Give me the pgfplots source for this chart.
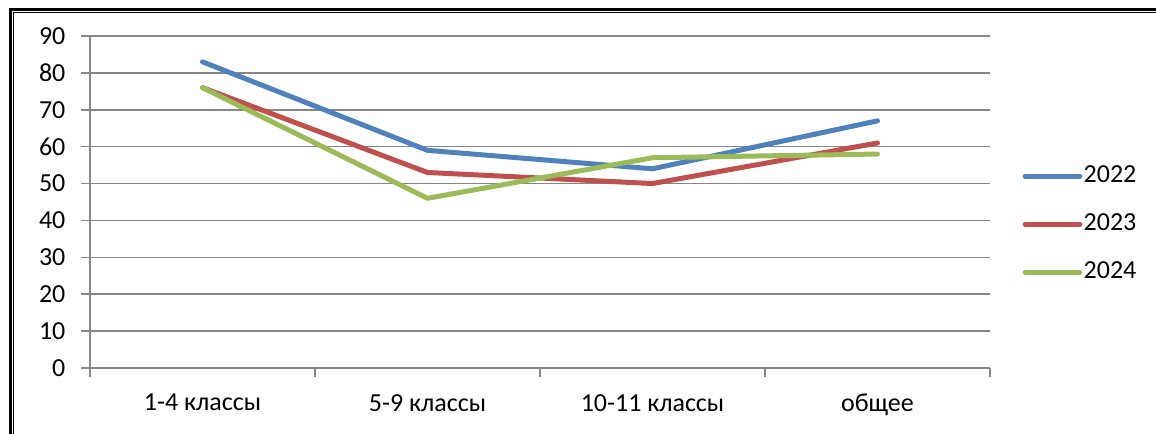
\documentclass[border=0pt]{standalone}
\usepackage{pgfplots}
\pgfplotsset{compat=1.18}
\usepackage{fontspec}
\setmainfont{Carlito}
\definecolor{c22}{HTML}{4F81BD}
\definecolor{c23}{HTML}{C0504D}
\definecolor{c24}{HTML}{9BBB59}
\definecolor{gridc}{HTML}{868686}
\begin{document}
\fontsize{19.5}{23}\selectfont
\begin{tikzpicture}
\useasboundingbox (0,0) rectangle (867pt,325.5pt);
\draw[black, line width=2.25pt] (7.5pt,0pt) -- (7.5pt,318.4pt) -- (867pt,318.4pt);
\draw[black, line width=0.75pt] (10.1pt,0pt) -- (10.1pt,316.1pt) -- (867pt,316.1pt);
\begin{axis}[
 at={(67.5pt,49.5pt)}, anchor=south west,
 scale only axis, width=675pt, height=249pt,
 xmin=0, xmax=4, ymin=0, ymax=90,
 axis x line*=bottom, axis y line*=left,
 axis line style={gridc, line width=1.1pt, -},
 xtick={0,1,2,3,4}, xticklabels={},
 extra x ticks={0.5,1.5,2.5,3.5},
 extra x tick labels={1-4 классы,5-9 классы,10-11 классы,общее},
 extra x tick style={major tick length=0pt, xticklabel style={yshift=-13pt}},
 ytick={0,10,...,90},
 yticklabel style={xshift=-5pt},
 ymajorgrids, grid style={gridc, line width=1.1pt},
 tick style={gridc, line width=1.1pt},
 tick align=outside,
 major tick length=6.75pt,
 /pgf/number format/assume math mode=true,
 ticklabel style={font=\fontsize{19.5}{23}\selectfont, text=black},
 legend style={at={(1.036,0.614)}, anchor=north west, draw=none, fill=none,
   font=\fontsize{19.5}{23}\selectfont, row sep=18.5pt, inner sep=0pt,
   nodes={inner sep=1pt}},
 legend cell align=left,
 legend image code/.code={\draw[#1] (0pt,0pt) -- (41pt,0pt);},
 every axis plot/.append style={line width=3.75pt, line join=round, line cap=round},
]
\addplot[c22] coordinates {(0.5,83) (1.5,59) (2.5,54) (3.5,67)};
\addplot[c23] coordinates {(0.5,76) (1.5,53) (2.5,50) (3.5,61)};
\addplot[c24] coordinates {(0.5,76) (1.5,46) (2.5,57) (3.5,58)};
\legend{2022,2023,2024}
\end{axis}
\end{tikzpicture}
\end{document}
